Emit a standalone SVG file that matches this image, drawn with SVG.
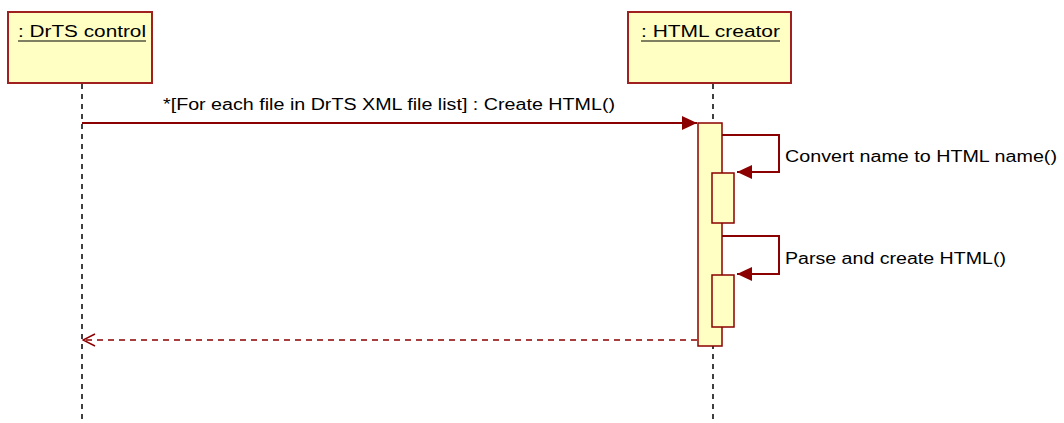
<svg xmlns="http://www.w3.org/2000/svg" width="1064" height="423" viewBox="0 0 1064 423">
<style>
.obj{fill:#ffffc4;stroke:#a02020;stroke-width:2}
.act{fill:#ffffc4;stroke:#8b0000;stroke-width:1.5}
.life{stroke:#000;stroke-width:1.5;stroke-dasharray:5,5;fill:none}
.msg{stroke:#8b0000;stroke-width:2;fill:none}
.ret{stroke:#8b0000;stroke-width:1.5;stroke-dasharray:6,5;fill:none}
.ul{stroke:#000;stroke-width:1.2}
text{font-family:"Liberation Sans",Arial,sans-serif;font-size:16px;fill:#000}
</style>
<defs>
<marker id="fill" markerWidth="16" markerHeight="14" refX="15" refY="7" orient="auto" markerUnits="userSpaceOnUse"><path d="M0,0 L15,7 L0,14 z" fill="#8b0000"/></marker>
<marker id="open" markerWidth="14" markerHeight="14" refX="13" refY="7" orient="auto" markerUnits="userSpaceOnUse"><path d="M1,1 L13,7 L1,13" fill="none" stroke="#8b0000" stroke-width="1.5"/></marker>
</defs>
<g id="drts-control">
<rect class="obj" x="8" y="12" width="144" height="71"/>
<text x="18" y="37" textLength="128" lengthAdjust="spacingAndGlyphs">: DrTS control</text>
<line class="ul" x1="18" y1="41" x2="146" y2="41"/>
<line class="life" x1="82" y1="84" x2="82" y2="423"/>
</g>
<g id="html-creator">
<rect class="obj" x="628" y="12" width="163" height="71"/>
<text x="641" y="37" textLength="139" lengthAdjust="spacingAndGlyphs">: HTML creator</text>
<line class="ul" x1="641" y1="41" x2="780" y2="41"/>
<line class="life" x1="713" y1="84" x2="713" y2="423"/>
<rect class="act" x="698" y="123" width="24" height="223"/>
<rect class="act" x="712" y="173" width="22" height="50"/>
<rect class="act" x="712" y="275" width="22" height="52"/>
</g>
<g id="connectors">
<line class="msg" x1="82" y1="123" x2="697" y2="123" marker-end="url(#fill)"/>
<text x="163" y="110" textLength="452" lengthAdjust="spacingAndGlyphs">*[For each file in DrTS XML file list] : Create HTML()</text>
<polyline class="msg" points="722,135 779,135 779,172 737,172" marker-end="url(#fill)"/>
<text x="785" y="162" textLength="272" lengthAdjust="spacingAndGlyphs">Convert name to HTML name()</text>
<polyline class="msg" points="722,236 779,236 779,274 737,274" marker-end="url(#fill)"/>
<text x="785" y="264" textLength="221" lengthAdjust="spacingAndGlyphs">Parse and create HTML()</text>
<line class="ret" x1="697" y1="340" x2="83" y2="340" marker-end="url(#open)"/>
</g>
</svg>
